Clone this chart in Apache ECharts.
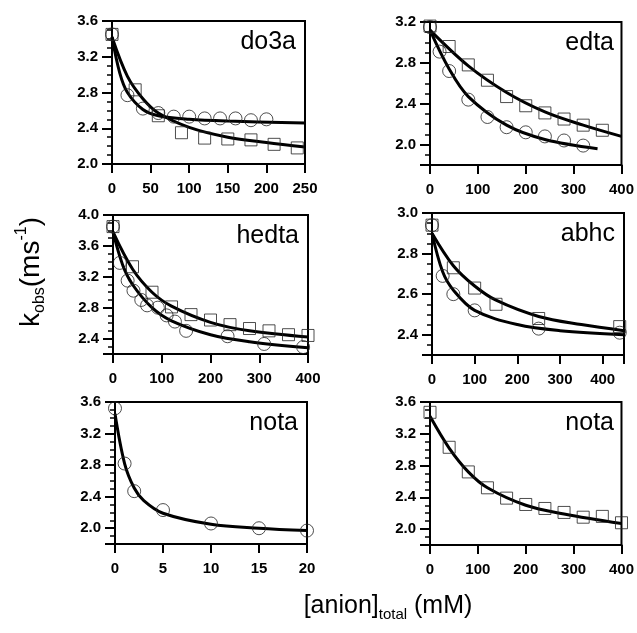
<!DOCTYPE html>
<html>
<head>
<meta charset="utf-8">
<script src="https://cdn.jsdelivr.net/npm/echarts@6/dist/echarts.min.js"></script>
<style>
html,body{margin:0;padding:0;background:#fff;}
#chart{width:637px;height:633px;}
</style>
</head>
<body>
<div id="chart"></div>
<script>
// ---------- data ----------
const panelNames = ['do3a', 'edta', 'hedta', 'abhc', 'nota', 'nota'];

// x ranges / tick intervals
const xMax = [250, 400, 400, 450, 20, 400];
const xInterval = [50, 100, 100, 100, 5, 100];
// y ranges / tick intervals
const yMin = [2.0, 1.8, 2.2, 2.3, 1.8, 1.8];
const yMax = [3.6, 3.2, 4.0, 3.0, 3.6, 3.6];
const yInterval = [0.4, 0.4, 0.4, 0.2, 0.4, 0.4];

// do3a
const do3aCircX = [0, 20, 40, 60, 80, 100, 120, 140, 160, 180, 200];
const do3aCircY = [3.45, 2.77, 2.62, 2.57, 2.53, 2.53, 2.51, 2.51, 2.51, 2.49, 2.50];
const do3aSqX = [0, 30, 60, 90, 120, 150, 180, 210, 240];
const do3aSqY = [3.45, 2.83, 2.54, 2.35, 2.29, 2.28, 2.27, 2.22, 2.18];
const do3aFitCircX = [0, 10, 20, 40, 60, 100, 150, 250];
const do3aFitCircY = [3.42, 3.02, 2.8, 2.61, 2.54, 2.5, 2.48, 2.46];
const do3aFitSqX = [0, 20, 40, 60, 100, 150, 200, 250];
const do3aFitSqY = [3.42, 2.98, 2.73, 2.57, 2.41, 2.3, 2.24, 2.19];

// edta
const edtaSqX = [0, 40, 80, 120, 160, 200, 240, 280, 320, 360];
const edtaSqY = [3.16, 2.96, 2.78, 2.63, 2.47, 2.38, 2.31, 2.25, 2.19, 2.14];
const edtaCircX = [0, 20, 40, 80, 120, 160, 200, 240, 280, 320];
const edtaCircY = [3.15, 2.91, 2.72, 2.44, 2.27, 2.17, 2.12, 2.08, 2.04, 1.99];
const edtaFitSqX = [0, 80, 160, 240, 320, 400];
const edtaFitSqY = [3.12, 2.77, 2.51, 2.32, 2.19, 2.08];
const edtaFitCircX = [0, 40, 80, 160, 240, 350];
const edtaFitCircY = [3.12, 2.74, 2.47, 2.19, 2.05, 1.96];

// hedta
const hedtaSqX = [0, 40, 80, 120, 160, 200, 240, 280, 320, 360, 400];
const hedtaSqY = [3.85, 3.33, 3.0, 2.81, 2.71, 2.64, 2.58, 2.53, 2.50, 2.45, 2.44];
const hedtaCircX = [0, 14, 30, 42, 58, 70, 92, 110, 127, 150, 235, 310, 390];
const hedtaCircY = [3.85, 3.38, 3.15, 3.02, 2.9, 2.83, 2.8, 2.7, 2.62, 2.5, 2.43, 2.33, 2.29];
const hedtaFitSqX = [0, 40, 80, 120, 200, 280, 400];
const hedtaFitSqY = [3.78, 3.3, 3.0, 2.82, 2.61, 2.5, 2.42];
const hedtaFitCircX = [0, 20, 40, 80, 120, 200, 280, 400];
const hedtaFitCircY = [3.78, 3.35, 3.1, 2.8, 2.63, 2.45, 2.36, 2.28];

// abhc
const abhcSqX = [0, 50, 100, 150, 250, 440];
const abhcSqY = [2.94, 2.73, 2.63, 2.55, 2.48, 2.44];
const abhcCircX = [0, 25, 50, 100, 250, 440];
const abhcCircY = [2.94, 2.69, 2.60, 2.52, 2.43, 2.41];
const abhcFitSqX = [0, 50, 100, 150, 250, 350, 450];
const abhcFitSqY = [2.9, 2.74, 2.64, 2.57, 2.49, 2.45, 2.42];
const abhcFitCircX = [0, 25, 50, 100, 200, 300, 450];
const abhcFitCircY = [2.9, 2.71, 2.62, 2.52, 2.45, 2.42, 2.40];

// nota (left, circles)
const notaCircX = [0, 1, 2, 5, 10, 15, 20];
const notaCircY = [3.52, 2.82, 2.47, 2.23, 2.06, 2.0, 1.97];
const notaFitX = [0, 1, 2, 3, 5, 10, 15, 20];
const notaFitY = [3.45, 2.82, 2.51, 2.35, 2.19, 2.05, 2.0, 1.97];

// nota (right, squares)
const nota2SqX = [0, 40, 80, 120, 160, 200, 240, 280, 320, 360, 400];
const nota2SqY = [3.47, 3.03, 2.72, 2.52, 2.39, 2.31, 2.26, 2.21, 2.15, 2.16, 2.08];
const nota2FitX = [0, 40, 80, 120, 200, 280, 400];
const nota2FitY = [3.42, 3.02, 2.72, 2.52, 2.3, 2.19, 2.07];

// ---------- build ----------
const zip = (xs, ys) => xs.map((x, i) => [x, ys[i]]);

const panelMarks = [
  { fits: [[do3aFitCircX, do3aFitCircY], [do3aFitSqX, do3aFitSqY]],
    circ: [do3aCircX, do3aCircY], sq: [do3aSqX, do3aSqY] },
  { fits: [[edtaFitSqX, edtaFitSqY], [edtaFitCircX, edtaFitCircY]],
    circ: [edtaCircX, edtaCircY], sq: [edtaSqX, edtaSqY] },
  { fits: [[hedtaFitSqX, hedtaFitSqY], [hedtaFitCircX, hedtaFitCircY]],
    circ: [hedtaCircX, hedtaCircY], sq: [hedtaSqX, hedtaSqY] },
  { fits: [[abhcFitSqX, abhcFitSqY], [abhcFitCircX, abhcFitCircY]],
    circ: [abhcCircX, abhcCircY], sq: [abhcSqX, abhcSqY] },
  { fits: [[notaFitX, notaFitY]], circ: [notaCircX, notaCircY], sq: null },
  { fits: [[nota2FitX, nota2FitY]], circ: null, sq: [nota2SqX, nota2SqY] }
];

const gridBoxes = [
  { left: 112, top: 21, width: 193, height: 143 },
  { left: 430, top: 22, width: 193, height: 143 },
  { left: 113, top: 215, width: 195, height: 139 },
  { left: 432, top: 213, width: 192, height: 142 },
  { left: 115, top: 402, width: 192, height: 142 },
  { left: 430, top: 402, width: 193, height: 143 }
];

const FONT = '"Liberation Sans", Arial, Helvetica, sans-serif';
const isMult = (v, iv) => Math.abs(v / iv - Math.round(v / iv)) < 1e-6;

const grid = [], xAxis = [], yAxis = [], series = [], graphic = [];

gridBoxes.forEach((g, i) => {
  grid.push(Object.assign({ show: true, borderColor: '#000', borderWidth: 2, backgroundColor: 'transparent' }, g));

  xAxis.push({
    gridIndex: i, type: 'value', min: 0, max: xMax[i], interval: xInterval[i],
    axisLine: { show: true, onZero: false, lineStyle: { color: '#000', width: 2 } },
    axisTick: { show: true, inside: false, length: 9, lineStyle: { color: '#000', width: 2 } },
    axisLabel: {
      margin: 17, color: '#000', fontSize: 15, fontFamily: FONT, fontWeight: 'bold',
      formatter: v => isMult(v, xInterval[i]) ? String(v) : ''
    },
    splitLine: { show: false }
  });

  // displayed axis: negated & inverted so ticks are counted from the top value
  yAxis.push({
    gridIndex: i, type: 'value', position: 'left', inverse: true,
    min: -yMax[i], max: -yMin[i], interval: yInterval[i],
    axisLine: { show: true, onZero: false, lineStyle: { color: '#000', width: 2 } },
    axisTick: { show: true, inside: false, length: 10, lineStyle: { color: '#000', width: 2 } },
    minorTick: { show: true, splitNumber: 4, length: 5, lineStyle: { color: '#000', width: 1.5 } },
    axisLabel: {
      margin: 14, color: '#000', fontSize: 15, fontFamily: FONT, fontWeight: 'bold',
      formatter: v => isMult(v, yInterval[i]) ? (-v).toFixed(1) : ''
    },
    splitLine: { show: false }, minorSplitLine: { show: false }
  });
  // data axis (hidden), same range, real values
  yAxis.push({
    gridIndex: i, type: 'value', position: 'right', show: false,
    min: yMin[i], max: yMax[i], splitLine: { show: false }
  });

  const xi = i, yi = 2 * i + 1;
  const m = panelMarks[i];
  m.fits.forEach(f => {
    series.push({
      type: 'line', xAxisIndex: xi, yAxisIndex: yi, data: zip(f[0], f[1]),
      smooth: 0.35, showSymbol: false, symbol: 'none',
      lineStyle: { color: '#000', width: 3 }, z: 3, silent: true, animation: false
    });
  });
  if (m.circ) {
    series.push({
      type: 'scatter', xAxisIndex: xi, yAxisIndex: yi, data: zip(m.circ[0], m.circ[1]),
      symbol: 'circle', symbolSize: 13,
      itemStyle: { color: 'rgba(0,0,0,0)', borderColor: '#222', borderWidth: 1 }, z: 4, animation: false
    });
  }
  if (m.sq) {
    series.push({
      type: 'scatter', xAxisIndex: xi, yAxisIndex: yi, data: zip(m.sq[0], m.sq[1]),
      symbol: 'rect', symbolSize: 12,
      itemStyle: { color: 'rgba(0,0,0,0)', borderColor: '#222', borderWidth: 1 }, z: 4, animation: false
    });
  }

  graphic.push({
    type: 'text', x: g.left + g.width - 9, y: g.top + 21, z: 10,
    style: { text: panelNames[i], fill: '#000', font: '25px ' + FONT, align: 'right', verticalAlign: 'middle' }
  });
});

// axis titles
graphic.push({
  type: 'text', x: 31, y: 272, rotation: Math.PI / 2, z: 10,
  style: {
    text: '{a|k}{b|obs}{a|(ms}{c|-1}{a|)}', align: 'center', verticalAlign: 'middle', fill: '#000',
    rich: {
      a: { fontSize: 28, fontFamily: FONT, lineHeight: 34, fill: '#000', verticalAlign: 'middle' },
      b: { fontSize: 16, fontFamily: FONT, lineHeight: 16, fill: '#000', verticalAlign: 'bottom' },
      c: { fontSize: 16, fontFamily: FONT, lineHeight: 16, fill: '#000', verticalAlign: 'top' }
    }
  }
});
graphic.push({
  type: 'text', x: 388, y: 606, z: 10,
  style: {
    text: '{a|[anion]}{b|total}{a| (mM)}', align: 'center', verticalAlign: 'middle', fill: '#000',
    rich: {
      a: { fontSize: 25, fontFamily: FONT, lineHeight: 32, fill: '#000', verticalAlign: 'middle' },
      b: { fontSize: 15, fontFamily: FONT, lineHeight: 14, fill: '#000', verticalAlign: 'bottom' }
    }
  }
});

const chart = echarts.init(document.getElementById('chart'), null, { renderer: 'canvas' });
chart.setOption({
  animation: false,
  backgroundColor: '#fff',
  grid, xAxis, yAxis, series, graphic
});
</script>
</body>
</html>
